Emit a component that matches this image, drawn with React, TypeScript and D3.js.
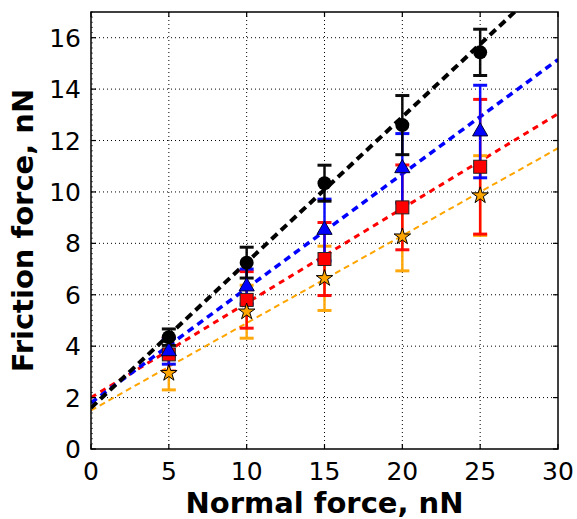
import React from "react";
import * as d3 from "d3";

const xs = [5, 10, 15, 20, 25];
const blackY = [4.35, 7.25, 10.34, 12.6, 15.43];
const blackErr = [0.32, 0.6, 0.7, 1.15, 0.9];
const blueY = [3.8, 6.32, 8.52, 10.92, 12.35];
const blueErr = [0.5, 0.68, 1.2, 1.35, 1.8];
const redY = [3.68, 5.8, 7.39, 9.4, 10.98];
const redErr = [0.65, 1.1, 1.42, 1.65, 2.62];
const orangeY = [2.95, 5.34, 6.64, 8.26, 9.86];
const orangeErr = [0.65, 1.03, 1.25, 1.33, 1.55];

// linear fits: [intercept, slope]
const blackFit = [1.6, 0.566];
const blueFit = [1.8, 0.445];
const redFit = [2.0, 0.368];
const orangeFit = [1.5, 0.34];

const xTicks = [0, 5, 10, 15, 20, 25, 30];
const yTicks = [0, 2, 4, 6, 8, 10, 12, 14, 16];

const W = 577, H = 519;
const L = 91, R = 558, T = 12, B = 449;

export default function App() {
  const x = d3.scaleLinear().domain([0, 30]).range([L, R]);
  const y = d3.scaleLinear().domain([0, 17]).range([B, T]);

  const series = [
    { name: "orange", color: "#ffa500", ys: orangeY, err: orangeErr, fit: orangeFit, lw: 2, dash: "6,4" },
    { name: "red", color: "#ff0000", ys: redY, err: redErr, fit: redFit, lw: 3, dash: "6,5" },
    { name: "blue", color: "#0000ff", ys: blueY, err: blueErr, fit: blueFit, lw: 3.5, dash: "7,5" },
    { name: "black", color: "#000000", ys: blackY, err: blackErr, fit: blackFit, lw: 4, dash: "8,5" },
  ];

  const minor = d3.range(0, 17.0001, 0.2);
  const star = d3.symbol().type(d3.symbolStar).size(85)();
  const tri = d3.symbol().type(d3.symbolTriangle).size(100)();

  const font = "DejaVu Sans, sans-serif";

  return (
    <svg width={W} height={H} style={{ position: "absolute", left: 0, top: 0 }} fontFamily={font}>
      <defs>
        <clipPath id="plot">
          <rect x={L} y={T} width={R - L} height={B - T} />
        </clipPath>
      </defs>
      <rect x={0} y={0} width={W} height={H} fill="#fff" />
      {/* grid */}
      {xTicks.slice(1, -1).map((t) => (
        <line key={"gx" + t} x1={x(t)} x2={x(t)} y1={T} y2={B} stroke="#000" strokeWidth={1} strokeDasharray="1,3" />
      ))}
      {yTicks.slice(1).map((t) => (
        <line key={"gy" + t} x1={L} x2={R} y1={y(t)} y2={y(t)} stroke="#000" strokeWidth={1} strokeDasharray="1,3" />
      ))}
      {/* fit lines */}
      <g clipPath="url(#plot)">
        {series.map((s) => {
          const xv = [0, 30];
          const pts = xv.map((v) => [x(v), y(s.fit[0] + s.fit[1] * v)]);
          return (
            <line key={"fit" + s.name} x1={pts[0][0]} y1={pts[0][1]} x2={pts[1][0]} y2={pts[1][1]}
              stroke={s.color} strokeWidth={s.lw} strokeDasharray={s.dash} />
          );
        })}
      </g>
      {/* error bars */}
      {series.map((s) => (
        <g key={"eb" + s.name} stroke={s.color} opacity={0.95}>
          {xs.map((xv, i) => {
            const lo = y(s.ys[i] - s.err[i]);
            const hi = y(s.ys[i] + s.err[i]);
            const cx = x(xv);
            return (
              <g key={i}>
                <line x1={cx} x2={cx} y1={lo} y2={hi} strokeWidth={2.5} />
                <line x1={cx - 7} x2={cx + 7} y1={lo} y2={lo} strokeWidth={3} />
                <line x1={cx - 7} x2={cx + 7} y1={hi} y2={hi} strokeWidth={3} />
              </g>
            );
          })}
        </g>
      ))}
      {/* markers */}
      {xs.map((xv, i) => (
        <rect key={"sq" + i} x={x(xv) - 6.5} y={y(redY[i]) - 6.5} width={13} height={13} fill="#ff0000" stroke="#222" strokeWidth={1} />
      ))}
      {xs.map((xv, i) => (
        <path key={"st" + i} d={star} transform={`translate(${x(xv)},${y(orangeY[i])})`} fill="#ffa500" stroke="#000" strokeWidth={1} />
      ))}
      {xs.map((xv, i) => (
        <path key={"tr" + i} d={tri} transform={`translate(${x(xv)},${y(blueY[i])})`} fill="#0000ff" stroke="#000033" strokeWidth={1} />
      ))}
      {xs.map((xv, i) => (
        <circle key={"ci" + i} cx={x(xv)} cy={y(blackY[i])} r={7} fill="#000" />
      ))}
      {/* minor ticks on left */}
      {minor.map((t, i) => (
        <line key={"mn" + i} x1={L} x2={L + 2} y1={y(t)} y2={y(t)} stroke="#000" strokeWidth={0.6} />
      ))}
      {/* major ticks */}
      {xTicks.map((t) => (
        <g key={"xt" + t}>
          <line x1={x(t)} x2={x(t)} y1={B} y2={B - 5} stroke="#000" strokeWidth={1.2} />
          <line x1={x(t)} x2={x(t)} y1={T} y2={T + 5} stroke="#000" strokeWidth={1.2} />
          <text x={x(t)} y={480} fontSize={25} textAnchor="middle" fill="#000">{t}</text>
        </g>
      ))}
      {yTicks.map((t) => (
        <g key={"yt" + t}>
          <line x1={L} x2={L + 5} y1={y(t)} y2={y(t)} stroke="#000" strokeWidth={1.2} />
          <line x1={R} x2={R - 5} y1={y(t)} y2={y(t)} stroke="#000" strokeWidth={1.2} />
          <text x={81} y={y(t)} dy="0.36em" fontSize={25} textAnchor="end" fill="#000">{t}</text>
        </g>
      ))}
      {/* frame */}
      <rect x={L} y={T} width={R - L} height={B - T} fill="none" stroke="#000" strokeWidth={1.5} />
      {/* axis labels */}
      <text x={(L + R) / 2} y={513} fontSize={29} fontWeight="bold" textAnchor="middle" fill="#000">Normal force, nN</text>
      <text transform={`translate(33,${(T + B) / 2}) rotate(-90)`} fontSize={29} fontWeight="bold" textAnchor="middle" fill="#000">Friction force, nN</text>
    </svg>
  );
}
